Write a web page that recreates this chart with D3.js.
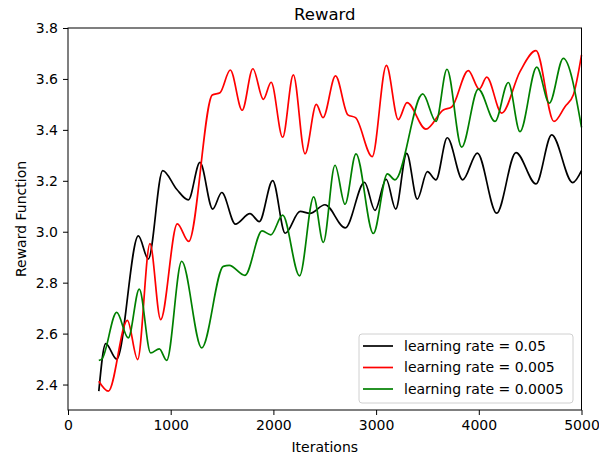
<!DOCTYPE html>
<html>
<head>
<meta charset="utf-8">
<script src="https://cdn.jsdelivr.net/npm/d3@7"></script>
<style>
  body { margin: 0; background: #fff; }
  svg { display: block; font-family: "DejaVu Sans", sans-serif; }
</style>
</head>
<body>
<svg id="chart" width="599" height="460"></svg>
<script>
const titleText = "Reward";
const xLabel = "Iterations";
const yLabel = "Reward Function";
const xTicks = [0, 1000, 2000, 3000, 4000, 5000];
const yTicks = [2.4, 2.6, 2.8, 3.0, 3.2, 3.4, 3.6, 3.8];
const seriesNames = ["learning rate = 0.05", "learning rate = 0.005", "learning rate = 0.0005"];
const seriesColors = ["#000000", "#ff0000", "#008000"];

const blackX = [300, 367, 474, 685, 782, 922, 1058, 1172, 1285, 1409, 1497, 1630, 1772, 1863, 1993, 2115, 2260, 2356, 2502, 2700, 2887, 2989, 3098, 3191, 3298, 3401, 3499, 3583, 3693, 3843, 3986, 4174, 4362, 4557, 4710, 4914, 5000];
const blackY = [2.374, 2.561, 2.50, 2.984, 2.893, 3.24, 3.167, 3.125, 3.272, 3.089, 3.154, 3.03, 3.071, 3.04, 3.201, 2.994, 3.08, 3.072, 3.106, 3.015, 3.194, 3.084, 3.206, 3.089, 3.308, 3.128, 3.236, 3.204, 3.369, 3.204, 3.309, 3.073, 3.311, 3.188, 3.38, 3.193, 3.24];

const redX = [300, 393, 578, 678, 798, 902, 1064, 1175, 1405, 1480, 1580, 1696, 1800, 1902, 1978, 2090, 2194, 2308, 2418, 2483, 2605, 2725, 2800, 2962, 3100, 3216, 3301, 3485, 3654, 3736, 3898, 4005, 4077, 4223, 4401, 4557, 4732, 4839, 4920, 5000];
const redY = [2.413, 2.374, 2.652, 2.498, 2.953, 2.655, 3.031, 2.962, 3.537, 3.546, 3.635, 3.477, 3.64, 3.52, 3.587, 3.371, 3.616, 3.306, 3.50, 3.448, 3.612, 3.459, 3.448, 3.295, 3.653, 3.44, 3.507, 3.403, 3.478, 3.490, 3.633, 3.56, 3.607, 3.466, 3.629, 3.711, 3.433, 3.491, 3.537, 3.694];

const greenX = [300, 330, 474, 587, 694, 805, 889, 961, 1107, 1302, 1512, 1570, 1723, 1890, 1975, 2090, 2255, 2392, 2486, 2600, 2697, 2804, 2973, 3110, 3184, 3454, 3583, 3690, 3833, 3995, 4158, 4287, 4401, 4564, 4687, 4823, 5000];
const greenY = [2.495, 2.50, 2.683, 2.583, 2.775, 2.524, 2.54, 2.495, 2.884, 2.544, 2.864, 2.868, 2.829, 3.003, 2.988, 3.065, 2.827, 3.137, 2.958, 3.261, 3.108, 3.306, 2.993, 3.227, 3.204, 3.541, 3.433, 3.638, 3.332, 3.56, 3.433, 3.586, 3.393, 3.646, 3.505, 3.681, 3.41];

const seriesX = [blackX, redX, greenX];
const seriesY = [blackY, redY, greenY];

const svg = d3.select("#chart");
const W = 599, H = 460;
const m = { left: 68, right: 17.5, top: 28, bottom: 50 };
const iw = W - m.left - m.right, ih = H - m.top - m.bottom;

const x = d3.scaleLinear().domain([0, 5000]).range([m.left, m.left + iw]);
const y = d3.scaleLinear().domain([2.3, 3.8]).range([m.top + ih, m.top]);

const line = d3.line().x(d => x(d[0])).y(d => y(d[1])).curve(d3.curveMonotoneX);

const plot = svg.append("g");
seriesX.forEach((xs, i) => {
  const pts = xs.map((v, j) => [v, seriesY[i][j]]);
  plot.append("path")
    .datum(pts)
    .attr("fill", "none")
    .attr("stroke", seriesColors[i])
    .attr("stroke-width", 1.7)
    .attr("stroke-linejoin", "round")
    .attr("d", line);
});

// frame
svg.append("rect")
  .attr("x", m.left).attr("y", m.top).attr("width", iw).attr("height", ih)
  .attr("fill", "none").attr("stroke", "#000").attr("stroke-width", 1);

const xAxis = svg.append("g")
  .attr("transform", `translate(0,${m.top + ih})`)
  .call(d3.axisBottom(x).tickValues(xTicks).tickFormat(d3.format("d")).tickSize(5).tickPadding(5));
const yAxis = svg.append("g")
  .attr("transform", `translate(${m.left},0)`)
  .call(d3.axisLeft(y).tickValues(yTicks).tickFormat(d3.format(".1f")).tickSize(5).tickPadding(5));
[xAxis, yAxis].forEach(g => {
  g.select(".domain").remove();
  g.selectAll("text").attr("font-size", 14).attr("fill", "#000").attr("font-family", "DejaVu Sans");
  g.selectAll("line").attr("stroke", "#000");
});

svg.append("text").attr("x", m.left + iw / 2).attr("y", 20)
  .attr("text-anchor", "middle").attr("font-size", 16.5).text(titleText);
svg.append("text").attr("x", m.left + iw / 2).attr("y", 452)
  .attr("text-anchor", "middle").attr("font-size", 14).text(xLabel);
svg.append("text").attr("transform", `translate(26,${m.top + ih / 2}) rotate(-90)`)
  .attr("text-anchor", "middle").attr("font-size", 14).text(yLabel);

// legend
const lg = svg.append("g");
lg.append("rect").attr("x", 359).attr("y", 334).attr("width", 214).attr("height", 69)
  .attr("rx", 3).attr("fill", "#fff").attr("fill-opacity", 0.8)
  .attr("stroke", "#d0d0d0").attr("stroke-width", 1);
seriesNames.forEach((name, i) => {
  const yy = 346 + i * 21.5;
  lg.append("line").attr("x1", 363).attr("x2", 393).attr("y1", yy).attr("y2", yy)
    .attr("stroke", seriesColors[i]).attr("stroke-width", 1.7);
  lg.append("text").attr("x", 404).attr("y", yy).attr("dy", "0.35em")
    .attr("font-size", 14).text(name);
});
</script>
</body>
</html>
